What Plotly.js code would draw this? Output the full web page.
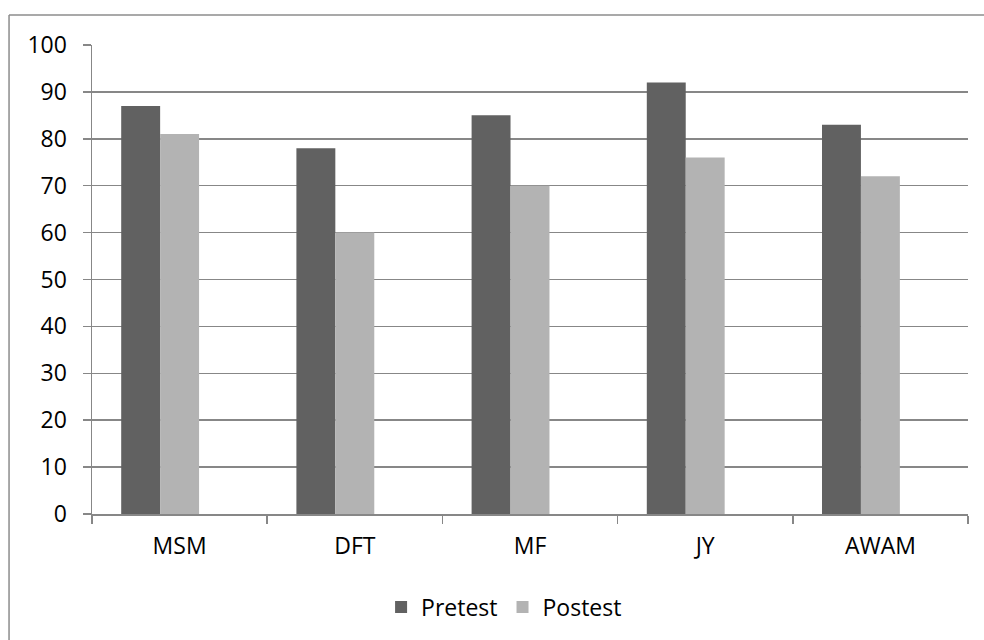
<!DOCTYPE html>
<html>
<head>
<meta charset="utf-8">
<script src="https://cdn.plot.ly/plotly-3.0.1.min.js"></script>
<style>
  html, body { margin: 0; padding: 0; background: #ffffff; }
  #chart { width: 984px; height: 640px; }
</style>
</head>
<body>
<div id="chart"></div>
<script>
const categories = ["MSM", "DFT", "MF", "JY", "AWAM"];
const pretest = [87, 78, 85, 92, 83];
const postest = [81, 60, 70, 76, 72];
const emptySeries = [null, null, null, null, null];
const yTicks = [0, 10, 20, 30, 40, 50, 60, 70, 80, 90, 100];

const gridColor = "#878787";
const fontFamily = "'Open Sans', 'Liberation Sans', sans-serif";

const traces = [
  { type: "bar", name: "Pretest", x: categories, y: pretest,
    marker: { color: "#616161", line: { width: 0 } } },
  { type: "bar", name: "Postest", x: categories, y: postest,
    marker: { color: "#b3b3b3", line: { width: 0 } } },
  { type: "bar", name: "", x: categories, y: emptySeries,
    showlegend: false, hoverinfo: "skip", marker: { color: "#ffffff" } }
];

const layout = {
  width: 984, height: 640,
  margin: { l: 92, r: 16, t: 45, b: 125, pad: 0 },
  paper_bgcolor: "#ffffff", plot_bgcolor: "#ffffff",
  font: { family: fontFamily, size: 23, color: "#000000" },
  barmode: "group",
  bargap: 0.3333,
  bargroupgap: 0,
  showlegend: true,
  legend: {
    orientation: "h", x: 0.33, xanchor: "left", y: -0.196, yanchor: "middle",
    font: { family: fontFamily, size: 23, color: "#000000" },
    itemwidth: 30, tracegroupgap: 0
  },
  xaxis: {
    type: "category",
    showgrid: false, zeroline: false,
    showline: true, linecolor: gridColor, linewidth: 1.5,
    ticks: "outside", tickson: "boundaries", ticklen: 8, tickwidth: 1.5, tickcolor: gridColor,
    ticklabelstandoff: 11,
    tickfont: { family: fontFamily, size: 23, color: "#000000" }
  },
  yaxis: {
    range: [0, 100], tickvals: yTicks, ticktext: yTicks.map(String),
    showgrid: true, gridcolor: gridColor, gridwidth: 1.5,
    zeroline: false,
    showline: true, linecolor: gridColor, linewidth: 1.5,
    ticks: "outside", ticklen: 8, tickwidth: 1.5, tickcolor: gridColor,
    ticklabelstandoff: 11,
    tickfont: { family: fontFamily, size: 23, color: "#000000" }
  },
  shapes: [
    { type: "line", xref: "paper", yref: "paper", x0: -0.0947, x1: 1.02, y0: 1.0638, y1: 1.0638,
      line: { color: "#8c8c8c", width: 1.5 } },
    { type: "line", xref: "paper", yref: "paper", x0: -0.0947, x1: -0.0947, y0: 1.0638, y1: -0.27,
      line: { color: "#8c8c8c", width: 1.5 } }
  ]
};

Plotly.newPlot("chart", traces, layout, { displayModeBar: false, staticPlot: true });
</script>
</body>
</html>
